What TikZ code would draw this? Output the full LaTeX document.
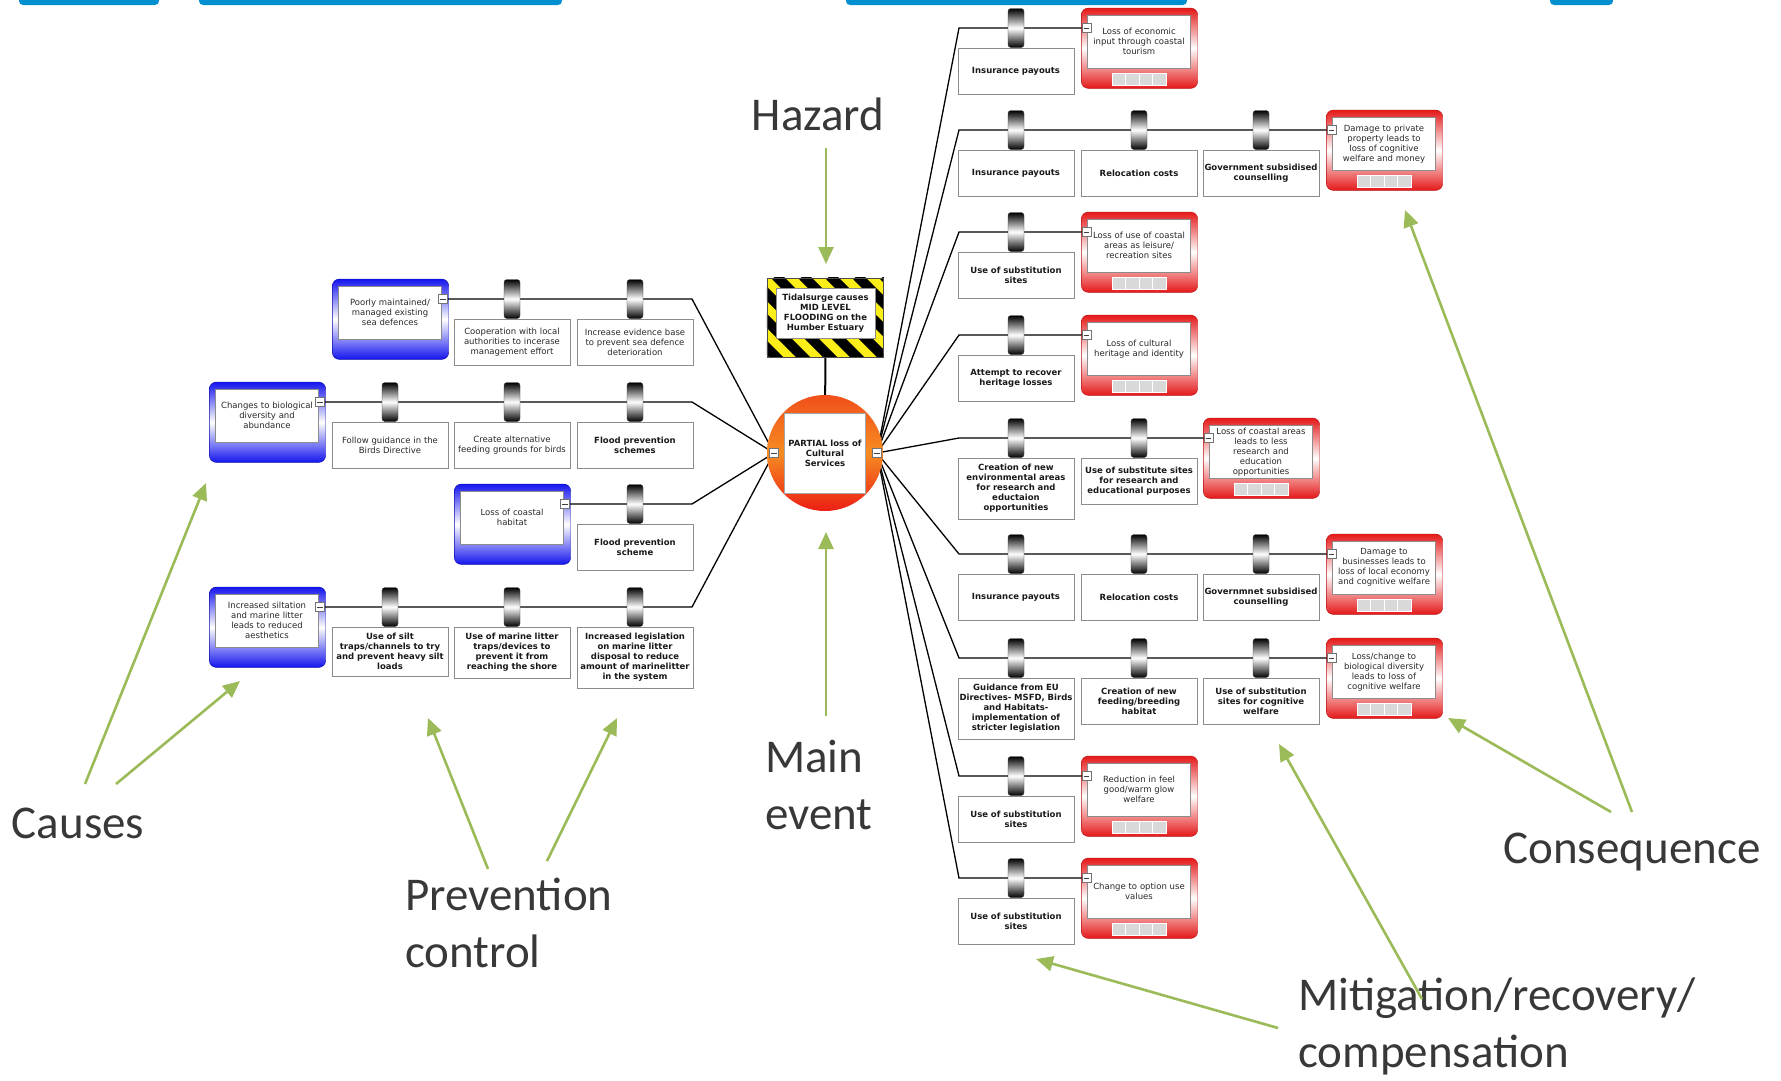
\documentclass[tikz,border=0pt]{standalone}
\usepackage{fontspec}
\setmainfont{DejaVu Sans}
\newfontfamily\notefont{Carlito}
\usepackage{tikz}
\usetikzlibrary{positioning,backgrounds}
\usetikzlibrary{arrows.meta}

\definecolor{causeblue}{RGB}{20,20,238}
\definecolor{conred}{RGB}{228,24,24}
\definecolor{notegreen}{RGB}{155,187,89}
\definecolor{waveblue}{RGB}{0,144,208}
\definecolor{boxtext}{RGB}{40,40,40}
\definecolor{hazyellow}{RGB}{252,238,24}
\definecolor{evorange}{RGB}{246,140,34}
\definecolor{evred}{RGB}{236,30,20}

\newcommand{\boxfont}{\fontsize{8.5}{10}\selectfont}

\begin{document}
\begin{tikzpicture}
	[   x=1pt,y=-1pt,
		box/.style={draw=black!45,fill=white,text=boxtext,align=center,font=\boxfont,inner sep=1.5pt},
		cause/.style={box,text width=100pt,minimum height=53pt,anchor=north},
		ctrl/.style={box,text width=116pt,minimum height=46pt,inner xsep=0pt,inner ysep=6.5pt},
		bctrl/.style={ctrl,font=\boxfont\bfseries,text=black!90},
		cyl/.style={draw=black!80,rounded corners=3pt,minimum width=16pt,minimum height=39pt,inner sep=0pt,top color=black,bottom color=black,middle color=white},
		handle/.style={draw=black!55,fill=white,minimum size=9pt,inner sep=0pt,
			path picture={\draw[black!75] ([xshift=-2.8pt]path picture bounding box.center) -- ([xshift=2.8pt]path picture bounding box.center);}},
		event/.style={circle,minimum size=116pt,inner sep=0pt,top color=evred!55!evorange,bottom color=evred,middle color=evorange},
		evtext/.style={box,draw=black!35,minimum height=80pt,text width=78pt,font=\boxfont\bfseries,text=black!90},
		hazard/.style={box,text width=96pt,minimum height=50pt,font=\boxfont\bfseries,text=black!90},
		causeframe/.style={draw=causeblue!70!black,rounded corners=7pt,top color=causeblue,bottom color=causeblue,middle color=white},
		conframe/.style={draw=conred!80!black,rounded corners=7pt,top color=conred,bottom color=conred,middle color=white},
		link/.style={draw=black,line width=1.3pt},
	]
	\tikzset{note/.style={font=\notefont\fontsize{47}{57}\selectfont,text=black!78,inner sep=0pt}}
	\tikzset{note arrow/.style={draw=notegreen,line width=2.6pt,-{Triangle[length=17pt,width=15pt]}}}
	\useasboundingbox (0,0) rectangle (1781,1080);

	\foreach \a/\b in {19/159,199/562,846/1187,1550/1613}
		\fill[waveblue,rounded corners=4pt] (\a,-8) rectangle (\b,5);

	% causes and prevention controls
	\node[cause] (c-1) at (390,286) {Poorly maintained/\\managed existing\\sea defences};
	\node[cause] (c-2) at (267,389) {Changes to biological\\diversity and\\abundance};
	\node[cause] (c-3) at (512,491) {Loss of coastal\\habitat};
	\node[cause] (c-4) at (267,594) {Increased siltation\\and marine litter\\leads to reduced\\aesthetics};

	\foreach \x in {1,...,4}
	{
		\node[handle] (hc-\x) at ([xshift=1pt,yshift=-13pt]c-\x.north east) {};
	}

	\foreach \n/\x/\y in {1-1/512/299,1-2/635/299,2-1/390/402,2-2/512/402,2-3/635/402,3-1/635/504,4-1/390/607,4-2/512/607,4-3/635/607}
	{
		\node[cyl] (bl-\n) at (\x,\y) {};
	}

	\node[ctrl,below=0pt of bl-1-1] (pc-1-1) {Cooperation with local\\authorities to incerase\\management effort};
	\node[ctrl,below=0pt of bl-1-2] (pc-1-2) {Increase evidence base\\to prevent sea defence\\deterioration};
	\node[ctrl,below=0pt of bl-2-1] (pc-2-1) {Follow guidance in the\\Birds Directive};
	\node[ctrl,below=0pt of bl-2-2] (pc-2-2) {Create alternative\\feeding grounds for birds};
	\node[bctrl,below=0pt of bl-2-3] (pc-2-3) {Flood prevention\\schemes};
	\node[bctrl,below=0pt of bl-3-1] (pc-3-1) {Flood prevention\\scheme};
	\node[bctrl,below=0pt of bl-4-1] (pc-4-1) {Use of silt\\traps/channels to try\\and prevent heavy silt\\loads};
	\node[bctrl,below=0pt of bl-4-2] (pc-4-2) {Use of marine litter\\traps/devices to\\prevent it from\\reaching the shore};
	\node[bctrl,below=0pt of bl-4-3] (pc-4-3) {Increased legislation\\on marine litter\\disposal to reduce\\amount of marinelitter\\in the system};

	\foreach \x/\y in {1/299,2/402,3/504,4/607}
		\coordinate (kl-\x) at (692,\y);

	% main event and hazard
	\node[event] (me) at (825,453) {};
	\node[evtext] (me-t) at (me) {PARTIAL loss of\\Cultural\\Services};
	\node[handle] (ev-l) at (774,453) {};
	\node[handle] (ev-r) at (877,453) {};
	\node[hazard] (hz) at (825.5,313) {Tidalsurge causes\\MID LEVEL\\FLOODING on the\\Humber Estuary};

	% consequences and mitigation
	\node[cause] (q-1) at (1139,15) {Loss of economic\\input through coastal\\tourism};
	\node[cause] (q-2) at (1384,117) {Damage to private\\property leads to\\loss of cognitive\\welfare and money};
	\node[cause] (q-3) at (1139,219) {Loss of use of coastal\\areas as leisure/\\recreation sites};
	\node[cause] (q-4) at (1139,322) {Loss of cultural\\heritage and identity};
	\node[cause] (q-5) at (1261,425) {Loss of coastal areas\\leads to less\\research and\\education\\opportunities};
	\node[cause] (q-6) at (1384,541) {Damage to\\businesses leads to\\loss of local economy\\and cognitive welfare};
	\node[cause] (q-7) at (1384,645) {Loss/change to\\biological diversity\\leads to loss of\\cognitive welfare};
	\node[cause] (q-8) at (1139,763) {Reduction in feel\\good/warm glow\\welfare};
	\node[cause] (q-9) at (1139,865) {Change to option use\\values};

	\foreach \x in {1,...,9}
	{
		\node[handle] (hq-\x) at ([xshift=-1pt,yshift=-13pt]q-\x.north west) {};
	}

	\foreach \n/\x/\y in {1-1/1016/28,2-1/1016/130,2-2/1139/130,2-3/1261/130,3-1/1016/232,4-1/1016/335,5-1/1016/438,5-2/1139/438,6-1/1016/554,6-2/1139/554,6-3/1261/554,7-1/1016/658,7-2/1139/658,7-3/1261/658,8-1/1016/776,9-1/1016/878}
	{
		\node[cyl] (br-\n) at (\x,\y) {};
	}

	\node[bctrl,below=0pt of br-1-1] (mt-1-1) {Insurance payouts};
	\node[bctrl,below=0pt of br-2-1] (mt-2-1) {Insurance payouts};
	\node[bctrl,below=0pt of br-2-2] (mt-2-2) {Relocation costs};
	\node[bctrl,below=0pt of br-2-3] (mt-2-3) {Government subsidised\\counselling};
	\node[bctrl,below=0pt of br-3-1] (mt-3-1) {Use of substitution\\sites};
	\node[bctrl,below=0pt of br-4-1] (mt-4-1) {Attempt to recover\\heritage losses};
	\node[bctrl,below=0pt of br-5-1] (mt-5-1) {Creation of new\\environmental areas\\for research and\\eductaion\\opportunities};
	\node[bctrl,below=0pt of br-5-2] (mt-5-2) {Use of substitute sites\\for research and\\educational purposes};
	\node[bctrl,below=0pt of br-6-1] (mt-6-1) {Insurance payouts};
	\node[bctrl,below=0pt of br-6-2] (mt-6-2) {Relocation costs};
	\node[bctrl,below=0pt of br-6-3] (mt-6-3) {Governmnet subsidised\\counselling};
	\node[bctrl,below=0pt of br-7-1] (mt-7-1) {Guidance from EU\\Directives- MSFD, Birds\\and Habitats-\\implementation of\\stricter legislation};
	\node[bctrl,below=0pt of br-7-2] (mt-7-2) {Creation of new\\feeding/breeding\\habitat};
	\node[bctrl,below=0pt of br-7-3] (mt-7-3) {Use of substitution\\sites for cognitive\\welfare};
	\node[bctrl,below=0pt of br-8-1] (mt-8-1) {Use of substitution\\sites};
	\node[bctrl,below=0pt of br-9-1] (mt-9-1) {Use of substitution\\sites};

	\foreach \x/\y in {1/28,2/130,3/232,4/335,5/438,6/554,7/658,8/776,9/878}
		\coordinate (kr-\x) at (959,\y);

	\begin{pgfonlayer}{background}
		\draw[line width=2pt] (hz) -- (me);
		\begin{scope}[shift={(hz.north west)}]
			\clip (-9,-10) rectangle (108,69);
			\fill[hazyellow] (-9,-10) rectangle (108,69);
			\foreach \s in {-135,-108,...,135}
				\draw[line width=10pt] (\s,-12) -- ++(85,85);
		\end{scope}
		\draw[black!70] ([xshift=-9pt,yshift=10pt]hz.north west) rectangle ([xshift=8pt,yshift=-19pt]hz.south east);

		\foreach \x in {1,...,4}
		{
			\path[causeframe] ([xshift=-6pt,yshift=7pt]c-\x.north west) rectangle ([xshift=7pt,yshift=-20pt]c-\x.south east);
		}
		\foreach \x in {1,...,9}
		{
			\path[conframe] ([xshift=-6pt,yshift=7pt]q-\x.north west) rectangle ([xshift=7pt,yshift=-20pt]q-\x.south east);
			\foreach \i in {0,...,3}
				\fill[black!15,draw=white,line width=0.8pt] ([xshift=-27pt+\i*13.5pt,yshift=-5pt]q-\x.south) rectangle ++(13.5pt,-12pt);
		}

		\foreach \x in {1,...,4}
		{
			\draw[link] (hc-\x) -- (kl-\x) -- (ev-l);
		}
		\foreach \x in {1,...,9}
		{
			\draw[link] (ev-r) -- (kr-\x) -- (hq-\x);
		}
	\end{pgfonlayer}

	% annotations
	\node[note] (l-haz) at (818,114) {Hazard};
	\node[note,align=left,anchor=west] (l-evt) at (765,785) {Main\\event};
	\node[note] (l-cau) at (78,823) {Causes};
	\node[note,align=left,anchor=west] (l-pre) at (405,923) {Prevention\\control};
	\node[note] (l-con) at (1632,852) {Consequence};
	\node[note,align=left,anchor=west] (l-mit) at (1298,1026) {Mitigation/recovery/\\compensation};

	\coordinate (s-haz) at (826,148);   \coordinate (t-haz) at (826,264);
	\coordinate (s-evt) at (826,716);   \coordinate (t-evt) at (826,532);
	\coordinate (s-cau1) at (85,784);   \coordinate (t-cau1) at (206,483);
	\coordinate (s-cau2) at (116,784);  \coordinate (t-cau2) at (240,681);
	\coordinate (s-pre1) at (488,869);  \coordinate (t-pre1) at (428,718);
	\coordinate (s-pre2) at (547,861);  \coordinate (t-pre2) at (617,718);
	\coordinate (s-con1) at (1611,812); \coordinate (t-con1) at (1448,718);
	\coordinate (s-con2) at (1632,812); \coordinate (t-con2) at (1405,210);
	\coordinate (s-mit1) at (1278,1028); \coordinate (t-mit1) at (1036,959);
	\coordinate (s-mit2) at (1422,999); \coordinate (t-mit2) at (1279,744);

	\foreach \n in {haz,evt,cau1,cau2,pre1,pre2,con1,con2,mit1,mit2}
	{
		\path[note arrow] (s-\n) -- (t-\n);
	}

\end{tikzpicture}
\end{document}
